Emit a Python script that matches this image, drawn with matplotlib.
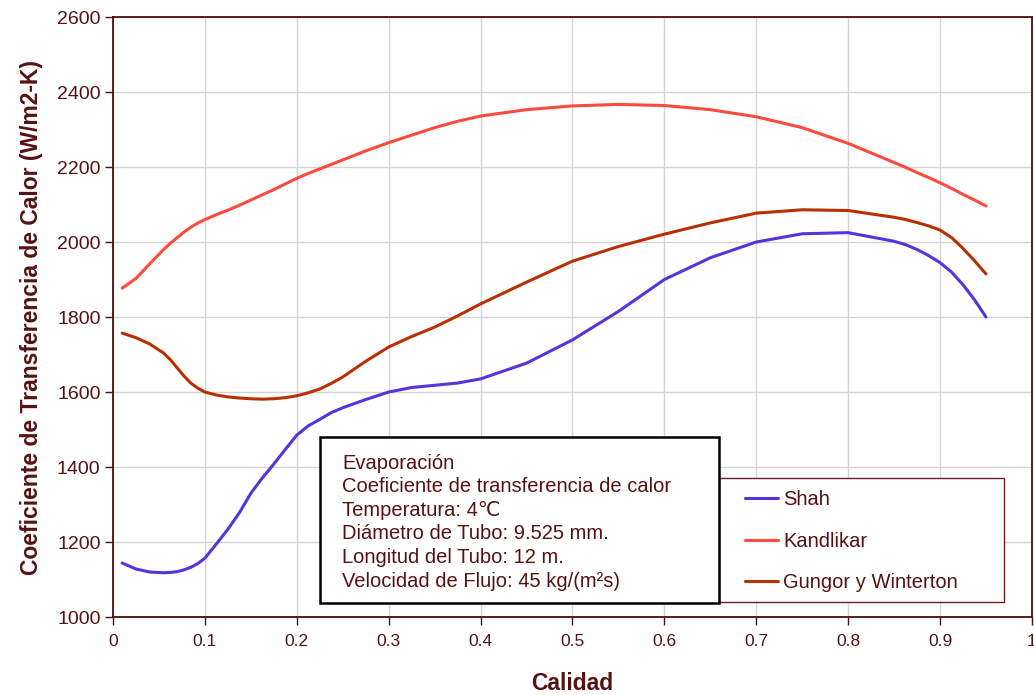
import matplotlib
matplotlib.use("Agg")
import matplotlib.pyplot as plt
from matplotlib.patches import Rectangle

plt.rcParams['font.family'] = ['Liberation Sans', 'DejaVu Sans']

# calidad (vapor quality) sample points
calidad = [0.01, 0.025, 0.04, 0.055, 0.0625, 0.07, 0.0775, 0.085, 0.0925, 0.1,
           0.1125, 0.125, 0.1375, 0.15, 0.1625, 0.175, 0.1875, 0.2, 0.2125, 0.225,
           0.2375, 0.25, 0.275, 0.3, 0.325, 0.35, 0.375, 0.4, 0.45, 0.5,
           0.55, 0.6, 0.65, 0.7, 0.75, 0.8, 0.85, 0.8625, 0.875, 0.8875,
           0.9, 0.9125, 0.925, 0.9375, 0.95]

shah = [1144, 1128, 1120, 1118, 1119, 1121, 1126, 1133, 1143, 1157,
        1195, 1234, 1278, 1330, 1371, 1408, 1447, 1485, 1510, 1527,
        1545, 1558, 1580, 1600, 1612, 1618, 1624, 1635, 1677, 1739,
        1815, 1900, 1958, 2000, 2022, 2025, 2002, 1993, 1980, 1964,
        1945, 1920, 1886, 1846, 1800]

kandlikar = [1877, 1903, 1942, 1980, 1997, 2012, 2027, 2040, 2051, 2060,
             2073, 2085, 2098, 2112, 2126, 2140, 2155, 2170, 2183, 2195,
             2207, 2219, 2243, 2265, 2285, 2305, 2322, 2336, 2353, 2363,
             2367, 2364, 2353, 2334, 2305, 2263, 2212, 2199, 2185, 2172,
             2158, 2143, 2127, 2112, 2096]

gungor = [1757, 1745, 1728, 1704, 1686, 1664, 1642, 1623, 1610, 1600,
          1592, 1587, 1584, 1582, 1581, 1582, 1585, 1590, 1598, 1608,
          1623, 1640, 1682, 1720, 1748, 1773, 1803, 1835, 1893, 1949,
          1988, 2021, 2051, 2077, 2086, 2084, 2066, 2060, 2052, 2043,
          2032, 2012, 1983, 1950, 1915]

x_ticks = [0, 0.1, 0.2, 0.3, 0.4, 0.5, 0.6, 0.7, 0.8, 0.9, 1]
x_tick_labels = ['0', '0.1', '0.2', '0.3', '0.4', '0.5', '0.6', '0.7', '0.8', '0.9', '1']
y_ticks = [1000, 1200, 1400, 1600, 1800, 2000, 2200, 2400, 2600]

info_lines = [
    'Evaporación',
    'Coeficiente de transferencia de calor',
    'Temperatura: 4℃',
    'Diámetro de Tubo: 9.525 mm.',
    'Longitud del Tubo: 12 m.',
    'Velocidad de Flujo: 45 kg/(m²s)',
]

text_color = '#561212'
spine_color = '#4a0e0e'

fig = plt.figure(figsize=(10.34, 6.95), dpi=100)
ax = fig.add_axes([0.1093, 0.1122, 0.8887, 0.8633])

line_kw = dict(lw=2.2, zorder=3, solid_joinstyle='round', solid_capstyle='round')
ax.plot(calidad, shah, color='#5533dd', label='Shah', **line_kw)
ax.plot(calidad, kandlikar, color='#ff4a3d', label='Kandlikar', **line_kw)
ax.plot(calidad, gungor, color='#b83000', label='Gungor y Winterton', **line_kw)

ax.set_xlim(0, 1)
ax.set_ylim(1000, 2600)
ax.set_xticks(x_ticks)
ax.set_xticklabels(x_tick_labels)
ax.set_yticks(y_ticks)
ax.grid(True, color='#d4d4d4', lw=1.0)
ax.set_axisbelow(True)

for side in ['left', 'bottom', 'top', 'right']:
    ax.spines[side].set_color(spine_color)
    ax.spines[side].set_linewidth(1.3)

ax.tick_params(axis='both', colors=spine_color, labelcolor=text_color,
               direction='out', length=6, width=1)
ax.tick_params(axis='x', labelsize=12.5, pad=6)
ax.tick_params(axis='y', labelsize=14, pad=3)

ax.set_xlabel('Calidad', fontsize=16.5, fontweight='bold', color=text_color, labelpad=17)
ax.set_ylabel('Coeficiente de Transferencia de Calor (W/m2-K)', fontsize=16.5,
              fontweight='bold', color=text_color, labelpad=10)

# legend frame drawn as a patch, legend entries placed inside it
ax.add_patch(Rectangle((0.6594, 0.025), 0.3101, 0.2067, transform=ax.transAxes,
                       facecolor='white', edgecolor='#6a2020', lw=1.0, zorder=5))
leg = ax.legend(loc='upper left', bbox_to_anchor=(0.6877, 0.2117),
                fontsize=14.5, labelspacing=1.12, handlelength=1.65,
                handletextpad=0.25, borderpad=0, borderaxespad=0,
                frameon=False)
leg.set_zorder(6)
for t in leg.get_texts():
    t.set_color(text_color)

# info box
ax.add_patch(Rectangle((0.2252, 0.0233), 0.4342, 0.2767, transform=ax.transAxes,
                       facecolor='white', edgecolor='black', lw=1.8, zorder=7))
for i, line in enumerate(info_lines):
    ax.text(0.2492, 0.256 - i * 0.0392, line, transform=ax.transAxes,
            fontsize=14.5, color=text_color, va='center', ha='left', zorder=8)

fig.savefig('out.png', dpi=100)
